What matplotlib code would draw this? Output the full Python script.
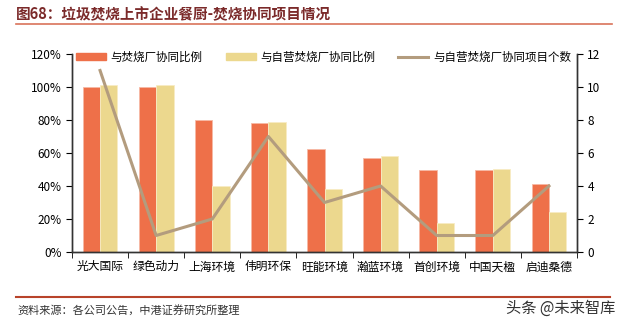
import numpy as np
import matplotlib
matplotlib.use("Agg")
import matplotlib.pyplot as plt
from matplotlib.lines import Line2D

plt.rcParams['font.family'] = ['Noto Sans CJK SC', 'DejaVu Sans']

companies = ["光大国际", "绿色动力", "上海环境", "伟明环保", "旺能环境",
             "瀚蓝环境", "首创环境", "中国天楹", "启迪桑德"]
ratio_all = [100, 100, 80, 78, 62.5, 57, 50, 50, 41]
ratio_self = [101, 101, 40, 79, 38, 58, 17.5, 50.5, 24]
n_projects = [11, 1, 2, 7, 3, 4, 1, 1, 4]

red = "#ee7049"
yellow = "#ecd88e"
tan = "#b39c7e"

fig = plt.figure(figsize=(6.25, 3.26), dpi=100)
ax = fig.add_axes([72/625, 1-252/326, 505/625, 198/326])

x = np.arange(len(companies))
w = 0.31
ax.bar(x - w/2, ratio_all, w, color=red, edgecolor="#f7b9a5", linewidth=0.6)
ax.bar(x + w/2, ratio_self, w, color=yellow, edgecolor="#f8ecc4", linewidth=0.6)
ax.set_xlim(-0.5, len(companies) - 0.5)
ax.set_ylim(0, 120)
ax.set_yticks(range(0, 121, 20))
ax.set_yticklabels([f"{v}%" for v in range(0, 121, 20)])
ax.set_xticks(x)
ax.set_xticklabels(companies)
ax.set_xticks(np.arange(-0.5, len(companies)), minor=True)
ax.tick_params(axis="x", which="major", length=0, labelsize=8.5, pad=6)
ax.tick_params(axis="x", which="minor", length=4, direction="out")
ax.tick_params(axis="y", length=4, labelsize=8.5, direction="out")

ax2 = ax.twinx()
ax2.plot(x, n_projects, color=tan, linewidth=2.2)
ax2.set_ylim(0, 12)
ax2.set_yticks(range(0, 13, 2))
ax2.tick_params(axis="y", length=4, labelsize=8.5, direction="out")

for a in (ax, ax2):
    a.spines["top"].set_visible(False)
    for s in ("left", "right", "bottom"):
        a.spines[s].set_color("#333333")
        a.spines[s].set_linewidth(1.0)

handles = [
    plt.Rectangle((0, 0), 1, 1, color=red),
    plt.Rectangle((0, 0), 1, 1, color=yellow),
    Line2D([0], [0], color=tan, linewidth=2.2),
]
labels = ["与焚烧厂协同比例", "与自营焚烧厂协同比例", "与自营焚烧厂协同项目个数"]
fig.legend(handles, labels, loc="center left", bbox_to_anchor=(76/625, 1-57/326), ncol=3,
           frameon=False, fontsize=8.3, handlelength=2.6, handleheight=0.5,
           columnspacing=2.0, handletextpad=0.4, borderpad=0, borderaxespad=0)

fig.text(16/625, 1-14/326, "图68：垃圾焚烧上市企业餐厨-焚烧协同项目情况", fontsize=10.5,
         fontweight="bold", color="#7b2a2a", va="center")
fig.add_artist(Line2D([16/625, 612/625], [1-24/326, 1-24/326], color="#d9735a", linewidth=1.2))
fig.add_artist(Line2D([16/625, 610/625], [1-297/326, 1-297/326], color="#b8432a", linewidth=1.5))
fig.text(17/625, 1-310/326, "资料来源：各公司公告，中港证券研究所整理", fontsize=8,
         style="italic", color="#333333", va="center")
fig.text(615/625, 1-308/326, "头条 @未来智库", fontsize=11, color="#333333", va="center", ha="right")

fig.savefig("out.png", dpi=100)
